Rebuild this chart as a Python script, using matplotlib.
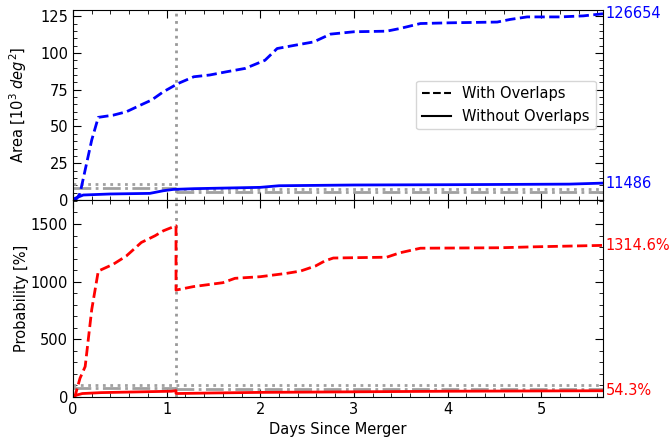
import matplotlib
matplotlib.use("Agg")
import matplotlib.pyplot as plt
from matplotlib.ticker import AutoMinorLocator

# ---- data ----
merger_line_day = 1.1
xmax = 5.66

area_with_x = [0.0, 0.04, 0.075, 0.2, 0.27, 0.43, 0.57, 0.72, 0.84, 0.965, 1.125, 1.29, 1.46,
               1.64, 1.84, 2.05, 2.18, 2.35, 2.57, 2.75, 3.0, 3.35, 3.49, 3.71, 4.03, 4.53,
               4.67, 4.85, 5.2, 5.45, 5.66]
area_with_y = [0.0, 1.0, 4.5, 40.8, 56.2, 57.7, 60.0, 64.5, 68.0, 73.6, 79.3, 83.8, 85.0,
               87.2, 89.5, 95.0, 103.0, 105.0, 107.5, 112.8, 114.4, 114.8, 116.6, 120.0, 120.5, 121.0,
               122.8, 124.5, 124.5, 125.2, 126.654]

area_wo_x = [0.0, 0.02, 0.11, 0.4, 0.82, 0.965, 1.07, 1.29, 2.0, 2.2, 3.0, 4.0, 5.3, 5.66]
area_wo_y = [0.0, 1.1, 3.4, 4.1, 4.5, 6.3, 7.2, 7.7, 8.6, 9.7, 10.2, 10.4, 10.8, 11.486]

prob_with_x = [0.0, 0.02, 0.075, 0.13, 0.2, 0.27, 0.43, 0.57, 0.73, 0.876, 0.965, 1.1, 1.1001,
               1.285, 1.46, 1.6, 1.73, 2.0, 2.28, 2.43, 2.59, 2.69, 2.78, 3.35, 3.49, 3.71,
               4.56, 4.92, 5.66]
prob_with_y = [0.0, 3, 163, 264, 758, 1092, 1151, 1223, 1340, 1398, 1441, 1485, 927,
               957, 976, 991, 1029, 1043, 1072, 1092, 1136, 1180, 1205, 1212, 1250, 1290,
               1294, 1302, 1314.6]

prob_wo_x = [0.0, 0.03, 0.1, 0.3, 1.05, 1.1, 1.1001, 1.5, 2.0, 3.0, 4.0, 5.66]
prob_wo_y = [0.0, 15, 30, 38, 50, 55, 30, 35, 40, 45, 50, 54.3]

# gray reference levels (before / after the vertical line)
area_ref_dotted = [10.6, 7.2]
area_ref_dashdot = [8.4, 5.2]
prob_ref_dotted = [105, 100]
prob_ref_dashdot = [76, 72]

area_final_labels = ["126654", "11486"]
area_final_values = [126.654, 11.486]
prob_final_labels = ["1314.6%", "54.3%"]
prob_final_values = [1314.6, 54.3]

FS = 10.5

# ---- figure ----
fig = plt.figure(figsize=(6.71, 4.40), dpi=100)
ax1 = fig.add_axes([73/671, 1-200/440, 530/671, 190/440])
ax2 = fig.add_axes([73/671, 1-397/440, 530/671, 197/440], sharex=ax1)

gray = "#a0a0a0"
for ax, dotted, dashdot in [(ax1, area_ref_dotted, area_ref_dashdot),
                            (ax2, prob_ref_dotted, prob_ref_dashdot)]:
    ax.plot([0, merger_line_day], [dotted[0]]*2, color=gray, ls=":", lw=2)
    ax.plot([merger_line_day, xmax], [dotted[1]]*2, color=gray, ls=":", lw=2)
    ax.plot([0, merger_line_day], [dashdot[0]]*2, color=gray, ls="-.", lw=2)
    ax.plot([merger_line_day, xmax], [dashdot[1]]*2, color=gray, ls="-.", lw=2)
    ax.axvline(merger_line_day, color="#999999", ls=":", lw=2)

ax1.plot(area_with_x, area_with_y, color="blue", ls="--", lw=2)
ax1.plot(area_wo_x, area_wo_y, color="blue", ls="-", lw=2)
ax2.plot(prob_with_x, prob_with_y, color="red", ls="--", lw=2)
ax2.plot(prob_wo_x, prob_wo_y, color="red", ls="-", lw=2)

ax1.set_xlim(0, xmax)
ax1.set_ylim(0, 129.2)
ax2.set_ylim(0, 1708)

for lab, v in zip(area_final_labels, area_final_values):
    ax1.text(xmax + 0.03, v, lab, color="blue", va="center", ha="left", fontsize=FS)
for lab, v in zip(prob_final_labels, prob_final_values):
    ax2.text(xmax + 0.03, v, lab, color="red", va="center", ha="left", fontsize=FS)

ax1.plot([], [], color="black", ls="--", label="With Overlaps")
ax1.plot([], [], color="black", ls="-", label="Without Overlaps")
ax1.legend(loc="center right", fontsize=FS)

for ax in (ax1, ax2):
    ax.xaxis.set_minor_locator(AutoMinorLocator())
    ax.yaxis.set_minor_locator(AutoMinorLocator())
    ax.tick_params(which="both", direction="in", top=True, right=True, labelsize=FS)
    ax.tick_params(which="major", length=6)
    ax.tick_params(which="minor", length=3)
plt.setp(ax1.get_xticklabels(), visible=False)
ax1.set_yticks([0, 25, 50, 75, 100, 125])
ax2.set_yticks([0, 500, 1000, 1500])

ax1.set_ylabel(r"Area [$10^3$ $deg^2$]", fontsize=FS)
ax2.set_ylabel("Probability [%]", fontsize=FS)
ax2.set_xlabel("Days Since Merger", fontsize=FS)
for ax in (ax1, ax2):
    ax.yaxis.set_label_coords(-0.083, 0.5)

fig.savefig("out.png", dpi=100)
